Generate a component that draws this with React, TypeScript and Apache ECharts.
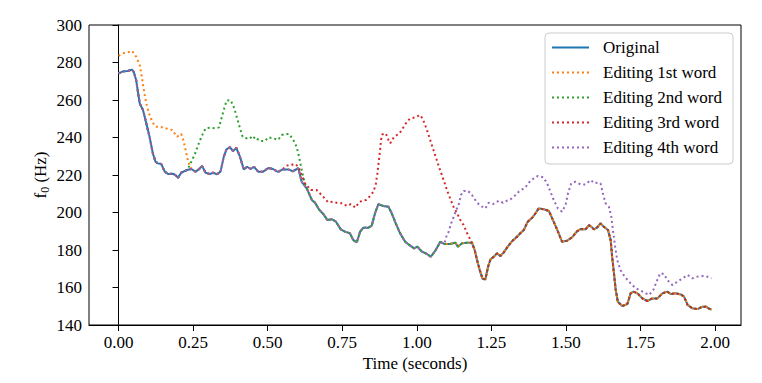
import React, { useEffect, useRef } from 'react';
import * as echarts from 'echarts';

type P = [number, number];

const seriesNames = ['Original', 'Editing 1st word', 'Editing 2nd word', 'Editing 3rd word', 'Editing 4th word'];
const colors = ['#1f77b4', '#ff7f0e', '#2ca02c', '#d62728', '#9467bd'];
const xTicks = [0, 0.25, 0.5, 0.75, 1.0, 1.25, 1.5, 1.75, 2.0];

const original: P[] = [
  [0.000, 274.2], [0.015, 275.3], [0.031, 275.5], [0.045, 276.2], [0.051, 275.0], [0.059, 270.7],
  [0.071, 258.2], [0.082, 254.7], [0.093, 247.6], [0.104, 240.4], [0.115, 231.6], [0.124, 227.1],
  [0.132, 226.2], [0.143, 225.9], [0.155, 221.8], [0.166, 220.5], [0.182, 220.7], [0.190, 220.0],
  [0.200, 218.6], [0.210, 221.2], [0.230, 222.7], [0.244, 223.2], [0.258, 221.8], [0.269, 223.0],
  [0.280, 224.8], [0.292, 221.2], [0.306, 220.5], [0.317, 221.2], [0.330, 220.4], [0.342, 221.8],
  [0.353, 229.8], [0.362, 233.7], [0.373, 234.8], [0.384, 232.8], [0.395, 234.4], [0.407, 229.8],
  [0.420, 223.0], [0.431, 224.4], [0.443, 223.2], [0.454, 224.4], [0.468, 221.8], [0.485, 221.8],
  [0.502, 223.7], [0.518, 223.2], [0.535, 221.6], [0.550, 223.0], [0.569, 223.0], [0.584, 222.0],
  [0.603, 223.6], [0.614, 216.4], [0.631, 212.9], [0.648, 206.7], [0.659, 205.2], [0.672, 201.7],
  [0.689, 198.7], [0.700, 196.0], [0.715, 196.4], [0.729, 195.1], [0.745, 191.0], [0.759, 189.8],
  [0.776, 188.9], [0.787, 185.3], [0.799, 184.1], [0.810, 189.8], [0.821, 191.9], [0.838, 191.9],
  [0.849, 193.0], [0.860, 199.6], [0.871, 204.4], [0.888, 203.5], [0.905, 203.1], [0.916, 199.6],
  [0.927, 195.1], [0.944, 188.9], [0.961, 184.4], [0.978, 182.3], [0.991, 180.9], [1.002, 181.8],
  [1.017, 179.1], [1.034, 177.9], [1.047, 176.4], [1.062, 179.6], [1.079, 184.4], [1.092, 183.2],
  [1.112, 183.2], [1.129, 183.9], [1.138, 181.8], [1.152, 183.6], [1.168, 183.9], [1.185, 183.9],
  [1.194, 180.0], [1.202, 174.7], [1.211, 169.3], [1.221, 164.5], [1.230, 164.4], [1.239, 171.1],
  [1.247, 175.0], [1.258, 176.4], [1.269, 178.2], [1.280, 176.8], [1.291, 178.6], [1.305, 181.8],
  [1.320, 184.8], [1.336, 187.1], [1.347, 188.9], [1.359, 190.7], [1.372, 195.1], [1.387, 197.2],
  [1.398, 199.6], [1.409, 202.2], [1.426, 201.7], [1.443, 200.8], [1.454, 196.9], [1.471, 190.7],
  [1.487, 184.4], [1.504, 185.0], [1.521, 186.8], [1.536, 189.8], [1.549, 191.2], [1.566, 191.0],
  [1.577, 193.3], [1.585, 192.4], [1.594, 191.0], [1.605, 192.1], [1.616, 194.2], [1.627, 192.4],
  [1.641, 190.7], [1.650, 185.3], [1.655, 176.4], [1.661, 167.6], [1.667, 158.7], [1.674, 152.4],
  [1.689, 150.1], [1.706, 151.2], [1.717, 156.9], [1.726, 157.8], [1.740, 156.9], [1.756, 154.2],
  [1.773, 152.8], [1.790, 154.2], [1.807, 154.2], [1.824, 156.9], [1.840, 157.8], [1.851, 156.5],
  [1.868, 156.9], [1.885, 156.3], [1.896, 155.1], [1.908, 150.7], [1.924, 148.9], [1.941, 148.5],
  [1.958, 149.8], [1.969, 149.8], [1.980, 148.7], [1.988, 148.2],
];

// Edited segments (replace the original contour over their time span)
const edit1st: P[] = [
  [0.000, 283.6], [0.015, 284.9], [0.031, 285.4], [0.046, 286.1], [0.059, 283.1], [0.071, 278.7],
  [0.078, 272.4], [0.085, 265.3], [0.093, 258.2], [0.102, 252.9], [0.113, 248.4], [0.124, 245.8],
  [0.149, 245.4], [0.166, 244.5], [0.180, 244.0], [0.196, 240.4], [0.210, 241.9], [0.217, 238.7],
  [0.225, 233.3], [0.231, 228.9], [0.239, 224.4], [0.248, 222.7],
];

const edit2nd: P[] = [
  [0.236, 224.4], [0.244, 227.1], [0.255, 230.7], [0.267, 236.0], [0.278, 240.4], [0.292, 244.9],
  [0.306, 245.2], [0.323, 244.9], [0.337, 245.4], [0.345, 250.2], [0.353, 254.7], [0.362, 259.6],
  [0.375, 260.0], [0.384, 257.3], [0.393, 252.9], [0.401, 248.4], [0.409, 244.0], [0.416, 240.4],
  [0.429, 239.6], [0.440, 240.4], [0.451, 239.0], [0.457, 240.4], [0.474, 238.1], [0.491, 238.1],
  [0.502, 240.1], [0.518, 239.6], [0.535, 238.7], [0.547, 241.3], [0.561, 241.9], [0.572, 241.9],
  [0.586, 238.7], [0.597, 235.1], [0.605, 229.8], [0.612, 224.4], [0.619, 219.1], [0.625, 215.6],
];

const edit3rd: P[] = [
  [0.563, 225.0], [0.579, 225.3], [0.590, 226.0], [0.603, 224.5], [0.625, 215.5], [0.645, 212.0],
  [0.664, 212.0], [0.681, 209.3], [0.703, 205.4], [0.720, 205.8], [0.737, 204.9], [0.752, 204.9],
  [0.765, 203.5], [0.779, 204.5], [0.787, 203.6], [0.794, 202.6], [0.804, 204.9], [0.816, 206.3],
  [0.830, 206.7], [0.841, 208.4], [0.855, 211.1], [0.863, 215.6], [0.868, 220.9], [0.873, 228.0],
  [0.877, 233.3], [0.880, 238.7], [0.885, 241.7], [0.896, 242.2], [0.905, 238.7], [0.911, 236.9],
  [0.924, 240.4], [0.942, 242.2], [0.953, 244.9], [0.967, 248.4], [0.978, 250.2], [0.995, 250.7],
  [1.011, 252.0], [1.019, 250.2], [1.028, 246.7], [1.036, 243.1], [1.045, 238.7], [1.056, 233.3],
  [1.067, 228.0], [1.078, 222.7], [1.090, 217.3], [1.101, 212.0], [1.112, 207.5], [1.123, 203.1],
  [1.135, 199.6], [1.146, 196.0], [1.157, 193.3], [1.168, 189.2], [1.179, 185.7],
];

const edit4th: P[] = [
  [1.099, 187.1], [1.107, 189.8], [1.115, 194.2], [1.123, 197.4], [1.132, 201.3], [1.140, 204.0],
  [1.148, 209.3], [1.157, 211.5], [1.172, 211.5], [1.185, 209.3], [1.202, 205.2], [1.219, 203.1],
  [1.230, 202.2], [1.241, 205.2], [1.255, 204.5], [1.275, 206.3], [1.289, 205.2], [1.302, 206.3],
  [1.314, 207.0], [1.331, 209.3], [1.342, 211.1], [1.364, 213.4], [1.381, 217.0], [1.406, 219.5],
  [1.424, 218.8], [1.437, 215.6], [1.448, 211.1], [1.459, 206.7], [1.473, 202.2], [1.487, 200.4],
  [1.499, 204.0], [1.507, 210.2], [1.518, 215.6], [1.532, 216.4], [1.549, 215.0], [1.566, 215.0],
  [1.583, 217.3], [1.596, 215.6], [1.607, 215.9], [1.616, 215.6], [1.624, 210.2], [1.633, 204.9],
  [1.644, 203.1], [1.652, 197.8], [1.659, 188.9], [1.665, 181.8], [1.672, 174.7], [1.683, 169.3],
  [1.697, 165.8], [1.717, 162.2], [1.734, 159.6], [1.751, 158.3], [1.764, 157.2], [1.779, 156.0],
  [1.793, 158.7], [1.804, 163.1], [1.816, 167.6], [1.829, 167.2], [1.840, 164.0], [1.857, 161.3],
  [1.874, 163.1], [1.891, 164.9], [1.908, 166.7], [1.924, 164.9], [1.941, 165.8], [1.958, 166.1],
  [1.969, 166.1], [1.988, 164.9],
];

const splice = (seg: P[]): P[] => {
  const t0 = seg[0][0];
  const t1 = seg[seg.length - 1][0];
  return [
    ...original.filter((p) => p[0] < t0),
    ...seg,
    ...original.filter((p) => p[0] > t1),
  ];
};

const FONT = 'Liberation Serif';

export default function App() {
  const ref = useRef<HTMLDivElement>(null);
  useEffect(() => {
    if (!ref.current) return;
    const chart = echarts.init(ref.current, undefined, { renderer: 'svg' });
    const datasets: P[][] = [original, splice(edit1st), splice(edit2nd), splice(edit3rd), splice(edit4th)];
    chart.setOption({
      animation: false,
      backgroundColor: '#fff',
      textStyle: { fontFamily: FONT },
      grid: { left: 89, right: 21, top: 25, bottom: 58, show: true, borderColor: '#000', borderWidth: 1, backgroundColor: 'transparent' },
      legend: {
        orient: 'vertical',
        right: 29,
        top: 33,
        padding: [6, 11, 8, 6],
        itemWidth: 37,
        itemHeight: 17,
        itemGap: 8,
        backgroundColor: '#fff',
        borderColor: '#cccccc',
        borderWidth: 1,
        borderRadius: 4,
        itemStyle: { opacity: 0, color: 'transparent', borderWidth: 0 },
        textStyle: { fontFamily: FONT, fontSize: 17, color: '#000', padding: [0, 0, 0, 9] },
        data: seriesNames,
      },
      xAxis: {
        type: 'value',
        min: -0.099,
        max: 2.087,
        name: 'Time (seconds)',
        nameLocation: 'middle',
        nameGap: 30,
        nameMoveOverlap: false,
        nameTextStyle: { fontFamily: FONT, fontSize: 17, color: '#000' },
        axisLine: { show: true, lineStyle: { color: '#000', width: 1 } },
        axisTick: { show: true, length: 6, lineStyle: { color: '#000' }, customValues: xTicks },
        axisLabel: {
          fontFamily: FONT, fontSize: 17, color: '#000', margin: 9,
          customValues: xTicks,
          formatter: (v: number) => v.toFixed(2),
        },
        splitLine: { show: false },
      },
      yAxis: {
        type: 'value',
        min: 140,
        max: 300,
        interval: 20,
        name: '{a|f}{s|0}{a| (Hz)}',
        nameLocation: 'middle',
        nameGap: 38,
        nameMoveOverlap: false,
        nameTextStyle: {
          fontFamily: FONT, fontSize: 17, color: '#000',
          rich: {
            a: { fontFamily: FONT, fontSize: 17, color: '#000' },
            s: { fontFamily: FONT, fontSize: 12, color: '#000', padding: [9, 0, 0, 0] },
          },
        },
        axisLine: { show: true, lineStyle: { color: '#000', width: 1 } },
        axisTick: { show: true, length: 6, lineStyle: { color: '#000' } },
        axisLabel: { fontFamily: FONT, fontSize: 17, color: '#000', margin: 7 },
        splitLine: { show: false },
      },
      series: datasets.map((d, i) => ({
        name: seriesNames[i],
        type: 'line',
        data: d,
        symbol: 'none',
        showSymbol: false,
        color: colors[i],
        lineStyle: {
          color: colors[i],
          width: 2,
          type: i === 0 ? 'solid' : [2, 3],
          cap: 'butt',
        },
      })),
    });
    return () => chart.dispose();
  }, []);
  return <div ref={ref} style={{ position: 'fixed', left: 0, top: 0, width: 762, height: 383 }} />;
}
